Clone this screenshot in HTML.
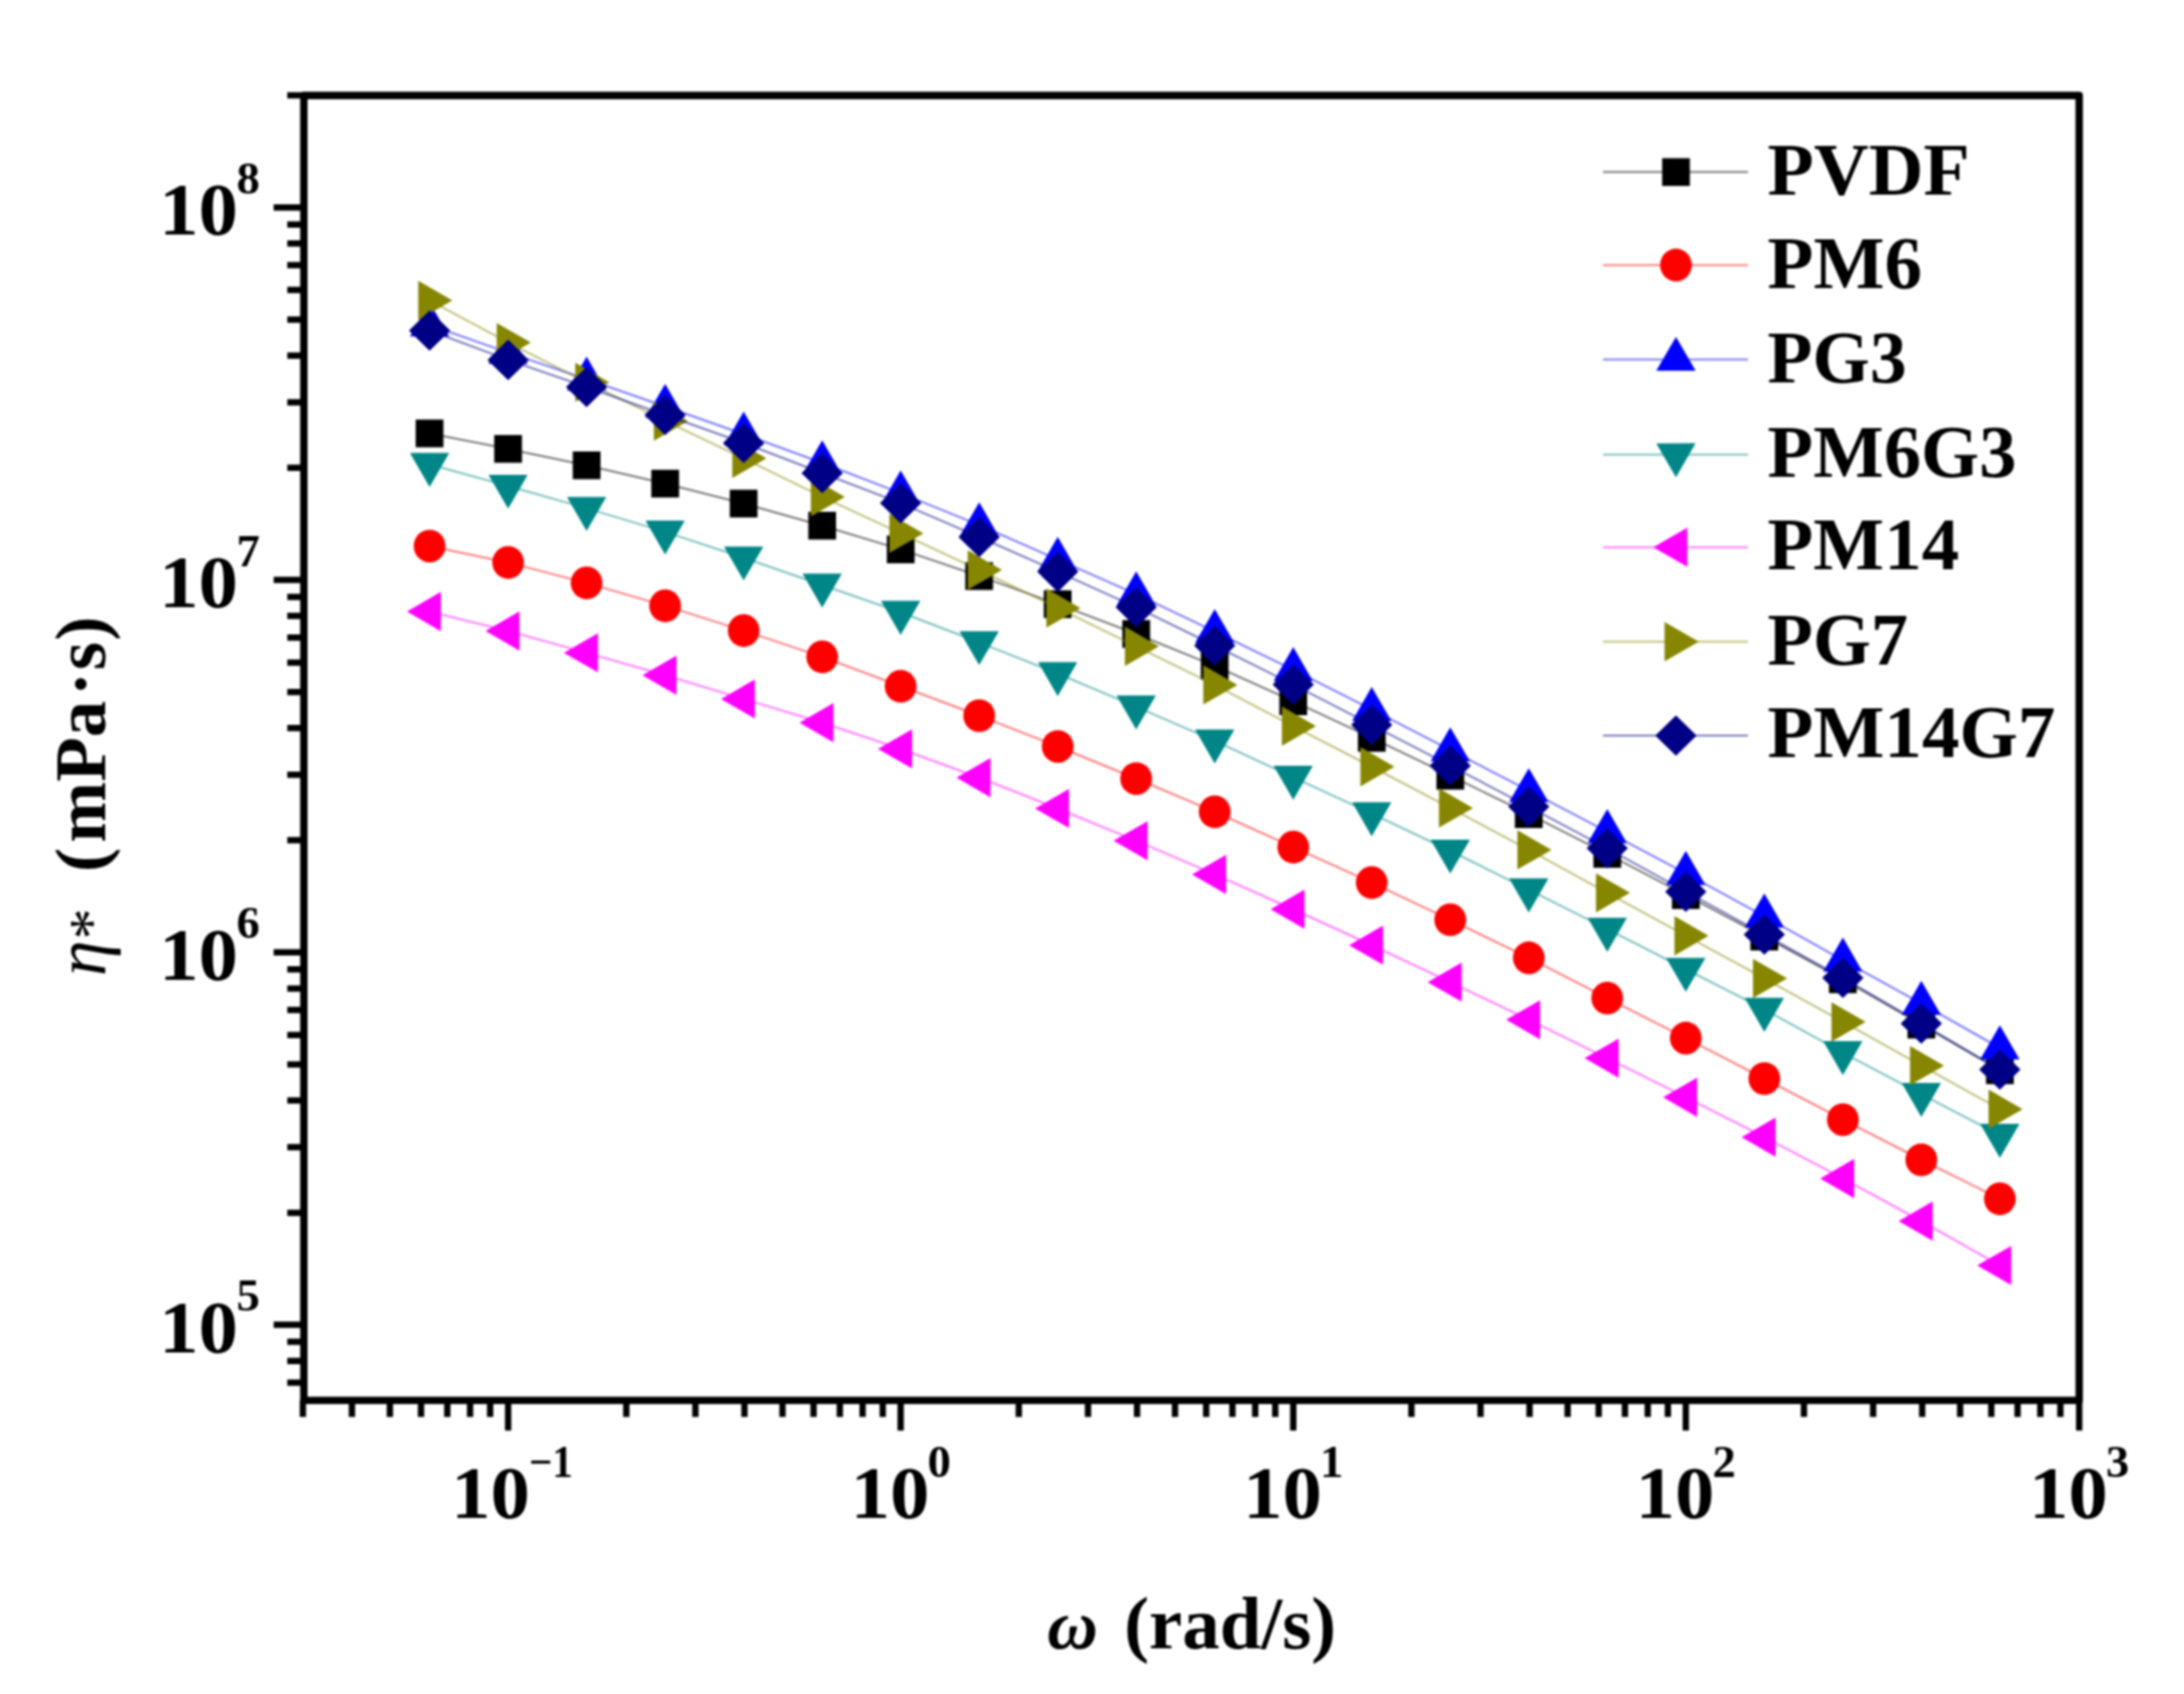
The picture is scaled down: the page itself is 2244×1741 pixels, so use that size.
<!DOCTYPE html>
<html lang="en"><head><meta charset="utf-8"><title>Complex viscosity vs angular frequency</title>
<style>html,body{margin:0;padding:0;background:#fff}svg{display:block;filter:blur(1px)}text{font-family:"Liberation Serif","DejaVu Serif",serif;fill:#000}.b{font-weight:bold}.i{font-style:italic}</style>
</head><body>
<svg width="2244" height="1741" viewBox="0 0 2244 1741">
<rect x="0" y="0" width="2244" height="1741" fill="#fff"/>
<g id="series">
<polyline points="441.4,445.4 522.1,461.4 602.7,478.3 683.4,497.0 764.1,517.5 844.8,540.2 925.4,564.6 1006.1,592.0 1086.8,620.9 1167.4,651.5 1248.1,684.3 1328.8,720.7 1409.4,758.3 1490.1,797.2 1570.8,836.7 1651.4,877.6 1732.1,919.9 1812.8,962.5 1893.5,1006.5 1974.1,1053.1 2054.8,1099.9" fill="none" stroke="#000000" stroke-width="2" stroke-opacity="0.52"/>
<g><rect x="427.1" y="431.2" width="28.5" height="28.5" fill="#000000"/><rect x="507.8" y="447.1" width="28.5" height="28.5" fill="#000000"/><rect x="588.5" y="464.0" width="28.5" height="28.5" fill="#000000"/><rect x="669.2" y="482.8" width="28.5" height="28.5" fill="#000000"/><rect x="749.8" y="503.3" width="28.5" height="28.5" fill="#000000"/><rect x="830.5" y="526.0" width="28.5" height="28.5" fill="#000000"/><rect x="911.2" y="550.4" width="28.5" height="28.5" fill="#000000"/><rect x="991.8" y="577.8" width="28.5" height="28.5" fill="#000000"/><rect x="1072.5" y="606.7" width="28.5" height="28.5" fill="#000000"/><rect x="1153.2" y="637.3" width="28.5" height="28.5" fill="#000000"/><rect x="1233.8" y="670.0" width="28.5" height="28.5" fill="#000000"/><rect x="1314.5" y="706.5" width="28.5" height="28.5" fill="#000000"/><rect x="1395.2" y="744.1" width="28.5" height="28.5" fill="#000000"/><rect x="1475.9" y="783.0" width="28.5" height="28.5" fill="#000000"/><rect x="1556.5" y="822.5" width="28.5" height="28.5" fill="#000000"/><rect x="1637.2" y="863.3" width="28.5" height="28.5" fill="#000000"/><rect x="1717.9" y="905.7" width="28.5" height="28.5" fill="#000000"/><rect x="1798.5" y="948.3" width="28.5" height="28.5" fill="#000000"/><rect x="1879.2" y="992.2" width="28.5" height="28.5" fill="#000000"/><rect x="1959.9" y="1038.8" width="28.5" height="28.5" fill="#000000"/><rect x="2040.6" y="1085.7" width="28.5" height="28.5" fill="#000000"/></g>
<polyline points="441.4,561.2 522.1,578.1 602.7,599.1 683.4,622.6 764.1,648.1 844.8,675.1 925.4,705.3 1006.1,735.5 1086.8,767.2 1167.4,800.2 1248.1,834.3 1328.8,870.6 1409.4,907.1 1490.1,945.3 1570.8,984.4 1651.4,1025.8 1732.1,1066.9 1812.8,1108.5 1893.5,1150.7 1974.1,1192.0 2054.8,1232.1" fill="none" stroke="#ff0000" stroke-width="2" stroke-opacity="0.52"/>
<g><ellipse cx="441.4" cy="561.2" rx="16.3" ry="16.8" fill="#ff0000"/><ellipse cx="522.1" cy="578.1" rx="16.3" ry="16.8" fill="#ff0000"/><ellipse cx="602.7" cy="599.1" rx="16.3" ry="16.8" fill="#ff0000"/><ellipse cx="683.4" cy="622.6" rx="16.3" ry="16.8" fill="#ff0000"/><ellipse cx="764.1" cy="648.1" rx="16.3" ry="16.8" fill="#ff0000"/><ellipse cx="844.8" cy="675.1" rx="16.3" ry="16.8" fill="#ff0000"/><ellipse cx="925.4" cy="705.3" rx="16.3" ry="16.8" fill="#ff0000"/><ellipse cx="1006.1" cy="735.5" rx="16.3" ry="16.8" fill="#ff0000"/><ellipse cx="1086.8" cy="767.2" rx="16.3" ry="16.8" fill="#ff0000"/><ellipse cx="1167.4" cy="800.2" rx="16.3" ry="16.8" fill="#ff0000"/><ellipse cx="1248.1" cy="834.3" rx="16.3" ry="16.8" fill="#ff0000"/><ellipse cx="1328.8" cy="870.6" rx="16.3" ry="16.8" fill="#ff0000"/><ellipse cx="1409.4" cy="907.1" rx="16.3" ry="16.8" fill="#ff0000"/><ellipse cx="1490.1" cy="945.3" rx="16.3" ry="16.8" fill="#ff0000"/><ellipse cx="1570.8" cy="984.4" rx="16.3" ry="16.8" fill="#ff0000"/><ellipse cx="1651.4" cy="1025.8" rx="16.3" ry="16.8" fill="#ff0000"/><ellipse cx="1732.1" cy="1066.9" rx="16.3" ry="16.8" fill="#ff0000"/><ellipse cx="1812.8" cy="1108.5" rx="16.3" ry="16.8" fill="#ff0000"/><ellipse cx="1893.5" cy="1150.7" rx="16.3" ry="16.8" fill="#ff0000"/><ellipse cx="1974.1" cy="1192.0" rx="16.3" ry="16.8" fill="#ff0000"/><ellipse cx="2054.8" cy="1232.1" rx="16.3" ry="16.8" fill="#ff0000"/></g>
<polyline points="441.4,334.0 522.1,362.4 602.7,389.7 683.4,417.8 764.1,446.2 844.8,475.8 925.4,506.9 1006.1,539.6 1086.8,575.1 1167.4,610.6 1248.1,649.2 1328.8,688.4 1409.4,729.2 1490.1,770.8 1570.8,812.7 1651.4,854.8 1732.1,897.7 1812.8,941.6 1893.5,986.9 1974.1,1031.4 2054.8,1077.1" fill="none" stroke="#0000ff" stroke-width="2" stroke-opacity="0.52"/>
<g><polygon points="441.4,310.7 461.6,345.7 421.2,345.7" fill="#0000ff"/><polygon points="522.1,339.1 542.2,374.1 501.9,374.1" fill="#0000ff"/><polygon points="602.7,366.4 622.9,401.4 582.6,401.4" fill="#0000ff"/><polygon points="683.4,394.5 703.6,429.4 663.2,429.4" fill="#0000ff"/><polygon points="764.1,422.9 784.3,457.9 743.9,457.9" fill="#0000ff"/><polygon points="844.8,452.5 864.9,487.4 824.6,487.4" fill="#0000ff"/><polygon points="925.4,483.6 945.6,518.6 905.2,518.6" fill="#0000ff"/><polygon points="1006.1,516.3 1026.3,551.3 985.9,551.3" fill="#0000ff"/><polygon points="1086.8,551.8 1106.9,586.7 1066.6,586.7" fill="#0000ff"/><polygon points="1167.4,587.3 1187.6,622.2 1147.3,622.2" fill="#0000ff"/><polygon points="1248.1,625.9 1268.3,660.8 1227.9,660.8" fill="#0000ff"/><polygon points="1328.8,665.1 1348.9,700.0 1308.6,700.0" fill="#0000ff"/><polygon points="1409.4,705.9 1429.6,740.9 1389.3,740.9" fill="#0000ff"/><polygon points="1490.1,747.5 1510.3,782.4 1469.9,782.4" fill="#0000ff"/><polygon points="1570.8,789.4 1591.0,824.3 1550.6,824.3" fill="#0000ff"/><polygon points="1651.4,831.5 1671.6,866.4 1631.3,866.4" fill="#0000ff"/><polygon points="1732.1,874.4 1752.3,909.4 1711.9,909.4" fill="#0000ff"/><polygon points="1812.8,918.3 1833.0,953.2 1792.6,953.2" fill="#0000ff"/><polygon points="1893.5,963.6 1913.6,998.5 1873.3,998.5" fill="#0000ff"/><polygon points="1974.1,1008.1 1994.3,1043.1 1954.0,1043.1" fill="#0000ff"/><polygon points="2054.8,1053.8 2075.0,1088.7 2034.6,1088.7" fill="#0000ff"/></g>
<polyline points="441.4,477.2 522.1,499.5 602.7,522.4 683.4,546.6 764.1,573.3 844.8,601.2 925.4,629.3 1006.1,660.3 1086.8,692.3 1167.4,726.4 1248.1,761.4 1328.8,798.8 1409.4,836.1 1490.1,874.5 1570.8,914.4 1651.4,954.9 1732.1,996.0 1812.8,1037.3 1893.5,1081.8 1974.1,1124.7 2054.8,1166.6" fill="none" stroke="#008686" stroke-width="2" stroke-opacity="0.52"/>
<g><polygon points="441.4,500.5 421.2,465.6 461.6,465.6" fill="#008686"/><polygon points="522.1,522.8 501.9,487.9 542.2,487.9" fill="#008686"/><polygon points="602.7,545.7 582.6,510.8 622.9,510.8" fill="#008686"/><polygon points="683.4,569.9 663.2,534.9 703.6,534.9" fill="#008686"/><polygon points="764.1,596.6 743.9,561.7 784.3,561.7" fill="#008686"/><polygon points="844.8,624.5 824.6,589.5 864.9,589.5" fill="#008686"/><polygon points="925.4,652.6 905.2,617.6 945.6,617.6" fill="#008686"/><polygon points="1006.1,683.6 985.9,648.7 1026.3,648.7" fill="#008686"/><polygon points="1086.8,715.6 1066.6,680.6 1106.9,680.6" fill="#008686"/><polygon points="1167.4,749.7 1147.3,714.8 1187.6,714.8" fill="#008686"/><polygon points="1248.1,784.7 1227.9,749.8 1268.3,749.8" fill="#008686"/><polygon points="1328.8,822.1 1308.6,787.1 1348.9,787.1" fill="#008686"/><polygon points="1409.4,859.4 1389.3,824.4 1429.6,824.4" fill="#008686"/><polygon points="1490.1,897.8 1469.9,862.9 1510.3,862.9" fill="#008686"/><polygon points="1570.8,937.7 1550.6,902.8 1591.0,902.8" fill="#008686"/><polygon points="1651.4,978.2 1631.3,943.3 1671.6,943.3" fill="#008686"/><polygon points="1732.1,1019.3 1711.9,984.4 1752.3,984.4" fill="#008686"/><polygon points="1812.8,1060.6 1792.6,1025.6 1833.0,1025.6" fill="#008686"/><polygon points="1893.5,1105.1 1873.3,1070.1 1913.6,1070.1" fill="#008686"/><polygon points="1974.1,1148.0 1954.0,1113.0 1994.3,1113.0" fill="#008686"/><polygon points="2054.8,1189.9 2034.6,1154.9 2075.0,1154.9" fill="#008686"/></g>
<polyline points="441.4,628.5 522.1,648.5 602.7,670.9 683.4,694.0 764.1,718.4 844.8,742.7 925.4,769.7 1006.1,799.2 1086.8,831.0 1167.4,864.1 1248.1,898.7 1328.8,934.5 1409.4,971.5 1490.1,1009.4 1570.8,1048.1 1651.4,1087.6 1732.1,1127.7 1812.8,1168.7 1893.5,1211.2 1974.1,1255.0 2054.8,1300.6" fill="none" stroke="#ff00ff" stroke-width="2" stroke-opacity="0.52"/>
<g><polygon points="418.1,628.5 453.0,608.3 453.0,648.7" fill="#ff00ff"/><polygon points="498.8,648.5 533.7,628.3 533.7,668.7" fill="#ff00ff"/><polygon points="579.4,670.9 614.4,650.7 614.4,691.1" fill="#ff00ff"/><polygon points="660.1,694.0 695.1,673.8 695.1,714.2" fill="#ff00ff"/><polygon points="740.8,718.4 775.7,698.2 775.7,738.6" fill="#ff00ff"/><polygon points="821.5,742.7 856.4,722.5 856.4,762.9" fill="#ff00ff"/><polygon points="902.1,769.7 937.1,749.5 937.1,789.8" fill="#ff00ff"/><polygon points="982.8,799.2 1017.7,779.0 1017.7,819.4" fill="#ff00ff"/><polygon points="1063.5,831.0 1098.4,810.8 1098.4,851.1" fill="#ff00ff"/><polygon points="1144.1,864.1 1179.1,843.9 1179.1,884.3" fill="#ff00ff"/><polygon points="1224.8,898.7 1259.8,878.5 1259.8,918.9" fill="#ff00ff"/><polygon points="1305.5,934.5 1340.4,914.3 1340.4,954.7" fill="#ff00ff"/><polygon points="1386.1,971.5 1421.1,951.3 1421.1,991.6" fill="#ff00ff"/><polygon points="1466.8,1009.4 1501.8,989.3 1501.8,1029.6" fill="#ff00ff"/><polygon points="1547.5,1048.1 1582.4,1028.0 1582.4,1068.3" fill="#ff00ff"/><polygon points="1628.1,1087.6 1663.1,1067.4 1663.1,1107.7" fill="#ff00ff"/><polygon points="1708.8,1127.7 1743.8,1107.5 1743.8,1147.9" fill="#ff00ff"/><polygon points="1789.5,1168.7 1824.4,1148.5 1824.4,1188.9" fill="#ff00ff"/><polygon points="1870.2,1211.2 1905.1,1191.1 1905.1,1231.4" fill="#ff00ff"/><polygon points="1950.8,1255.0 1985.8,1234.8 1985.8,1275.2" fill="#ff00ff"/><polygon points="2031.5,1300.6 2066.5,1280.4 2066.5,1320.8" fill="#ff00ff"/></g>
<polyline points="441.4,308.8 522.1,352.1 602.7,392.9 683.4,432.7 764.1,471.1 844.8,510.7 925.4,548.2 1006.1,585.8 1086.8,624.9 1167.4,664.3 1248.1,703.9 1328.8,746.3 1409.4,788.0 1490.1,830.4 1570.8,873.4 1651.4,917.6 1732.1,961.7 1812.8,1005.5 1893.5,1050.2 1974.1,1095.2 2054.8,1139.9" fill="none" stroke="#868600" stroke-width="2" stroke-opacity="0.52"/>
<g><polygon points="464.7,308.8 429.8,329.0 429.7,288.6" fill="#868600"/><polygon points="545.4,352.1 510.4,372.2 510.4,331.9" fill="#868600"/><polygon points="626.0,392.9 591.1,413.1 591.1,372.8" fill="#868600"/><polygon points="706.7,432.7 671.8,452.9 671.8,412.6" fill="#868600"/><polygon points="787.4,471.1 752.4,491.3 752.4,450.9" fill="#868600"/><polygon points="868.0,510.7 833.1,530.8 833.1,490.5" fill="#868600"/><polygon points="948.7,548.2 913.8,568.3 913.8,528.0" fill="#868600"/><polygon points="1029.4,585.8 994.4,606.0 994.4,565.6" fill="#868600"/><polygon points="1110.1,624.9 1075.1,645.1 1075.1,604.7" fill="#868600"/><polygon points="1190.7,664.3 1155.8,684.4 1155.8,644.1" fill="#868600"/><polygon points="1271.4,703.9 1236.4,724.1 1236.4,683.7" fill="#868600"/><polygon points="1352.1,746.3 1317.1,766.5 1317.1,726.1" fill="#868600"/><polygon points="1432.7,788.0 1397.8,808.2 1397.8,767.8" fill="#868600"/><polygon points="1513.4,830.4 1478.5,850.6 1478.5,810.2" fill="#868600"/><polygon points="1594.1,873.4 1559.1,893.6 1559.1,853.2" fill="#868600"/><polygon points="1674.7,917.6 1639.8,937.8 1639.8,897.5" fill="#868600"/><polygon points="1755.4,961.7 1720.5,981.9 1720.5,941.5" fill="#868600"/><polygon points="1836.1,1005.5 1801.1,1025.7 1801.1,985.4" fill="#868600"/><polygon points="1916.8,1050.2 1881.8,1070.4 1881.8,1030.1" fill="#868600"/><polygon points="1997.4,1095.2 1962.5,1115.3 1962.5,1075.0" fill="#868600"/><polygon points="2078.1,1139.9 2043.2,1160.1 2043.2,1119.7" fill="#868600"/></g>
<polyline points="441.4,339.7 522.1,369.9 602.7,397.7 683.4,426.5 764.1,455.2 844.8,486.3 925.4,517.1 1006.1,551.9 1086.8,587.6 1167.4,624.1 1248.1,663.5 1328.8,703.6 1409.4,745.1 1490.1,786.9 1570.8,829.1 1651.4,871.8 1732.1,916.4 1812.8,960.5 1893.5,1005.0 1974.1,1051.9 2054.8,1099.3" fill="none" stroke="#000086" stroke-width="2" stroke-opacity="0.52"/>
<g><polygon points="441.4,318.9 462.6,339.7 441.4,360.5 420.2,339.7" fill="#000086"/><polygon points="522.1,349.1 543.3,369.9 522.1,390.7 500.9,369.9" fill="#000086"/><polygon points="602.7,376.9 623.9,397.7 602.7,418.5 581.5,397.7" fill="#000086"/><polygon points="683.4,405.7 704.6,426.5 683.4,447.3 662.2,426.5" fill="#000086"/><polygon points="764.1,434.4 785.3,455.2 764.1,476.0 742.9,455.2" fill="#000086"/><polygon points="844.8,465.5 866.0,486.3 844.8,507.1 823.5,486.3" fill="#000086"/><polygon points="925.4,496.3 946.6,517.1 925.4,537.9 904.2,517.1" fill="#000086"/><polygon points="1006.1,531.1 1027.3,551.9 1006.1,572.7 984.9,551.9" fill="#000086"/><polygon points="1086.8,566.8 1108.0,587.6 1086.8,608.4 1065.6,587.6" fill="#000086"/><polygon points="1167.4,603.3 1188.6,624.1 1167.4,644.9 1146.2,624.1" fill="#000086"/><polygon points="1248.1,642.7 1269.3,663.5 1248.1,684.3 1226.9,663.5" fill="#000086"/><polygon points="1328.8,682.8 1350.0,703.6 1328.8,724.4 1307.6,703.6" fill="#000086"/><polygon points="1409.4,724.3 1430.6,745.1 1409.4,765.9 1388.2,745.1" fill="#000086"/><polygon points="1490.1,766.1 1511.3,786.9 1490.1,807.7 1468.9,786.9" fill="#000086"/><polygon points="1570.8,808.3 1592.0,829.1 1570.8,849.9 1549.6,829.1" fill="#000086"/><polygon points="1651.4,851.0 1672.6,871.8 1651.4,892.6 1630.2,871.8" fill="#000086"/><polygon points="1732.1,895.6 1753.3,916.4 1732.1,937.2 1710.9,916.4" fill="#000086"/><polygon points="1812.8,939.7 1834.0,960.5 1812.8,981.3 1791.6,960.5" fill="#000086"/><polygon points="1893.5,984.2 1914.7,1005.0 1893.5,1025.8 1872.3,1005.0" fill="#000086"/><polygon points="1974.1,1031.1 1995.3,1051.9 1974.1,1072.7 1952.9,1051.9" fill="#000086"/><polygon points="2054.8,1078.5 2076.0,1099.3 2054.8,1120.1 2033.6,1099.3" fill="#000086"/></g>
</g>
<g stroke="#000" fill="none" stroke-linecap="butt">
<rect x="312.2" y="98.1" width="1824.1" height="1341.2" stroke-width="7.6" stroke-linejoin="round"/>
<path d="M312.2,1420.9h-17M312.2,1398.7h-17M312.2,1379.1h-17M312.2,1361.6h-31M312.2,1246.4h-17M312.2,1179.0h-17M312.2,1131.1h-17M312.2,1094.0h-17M312.2,1063.7h-17M312.2,1038.1h-17M312.2,1015.9h-17M312.2,996.3h-17M312.2,978.8h-31M312.2,863.6h-17M312.2,796.2h-17M312.2,748.3h-17M312.2,711.2h-17M312.2,680.9h-17M312.2,655.3h-17M312.2,633.1h-17M312.2,613.5h-17M312.2,596.0h-31M312.2,480.8h-17M312.2,413.4h-17M312.2,365.5h-17M312.2,328.4h-17M312.2,298.1h-17M312.2,272.5h-17M312.2,250.3h-17M312.2,230.7h-17M312.2,213.2h-31M312.2,98.0h-17M311.2,1439.3v17M361.6,1439.3v17M400.6,1439.3v17M432.6,1439.3v17M459.6,1439.3v17M483.0,1439.3v17M503.6,1439.3v17M522.1,1439.3v31M643.5,1439.3v17M714.5,1439.3v17M764.9,1439.3v17M804.0,1439.3v17M835.9,1439.3v17M862.9,1439.3v17M886.3,1439.3v17M907.0,1439.3v17M925.4,1439.3v31M1046.8,1439.3v17M1117.9,1439.3v17M1168.3,1439.3v17M1207.3,1439.3v17M1239.3,1439.3v17M1266.3,1439.3v17M1289.7,1439.3v17M1310.3,1439.3v17M1328.8,1439.3v31M1450.2,1439.3v17M1521.2,1439.3v17M1571.6,1439.3v17M1610.7,1439.3v17M1642.6,1439.3v17M1669.6,1439.3v17M1693.0,1439.3v17M1713.7,1439.3v17M1732.1,1439.3v31M1853.5,1439.3v17M1924.6,1439.3v17M1975.0,1439.3v17M2014.0,1439.3v17M2046.0,1439.3v17M2073.0,1439.3v17M2096.4,1439.3v17M2117.0,1439.3v17M2136.3,1439.3v31" stroke-width="6.5"/>
</g>
<g class="b">
<text x="163.5" y="1389.6" font-size="76" textLength="81" lengthAdjust="spacingAndGlyphs">10</text>
<text x="243" y="1347.1" font-size="46" textLength="24" lengthAdjust="spacingAndGlyphs">5</text>
<text x="163.5" y="1006.8" font-size="76" textLength="81" lengthAdjust="spacingAndGlyphs">10</text>
<text x="243" y="964.3" font-size="46" textLength="24" lengthAdjust="spacingAndGlyphs">6</text>
<text x="163.5" y="624.0" font-size="76" textLength="81" lengthAdjust="spacingAndGlyphs">10</text>
<text x="243" y="581.5" font-size="46" textLength="24" lengthAdjust="spacingAndGlyphs">7</text>
<text x="163.5" y="241.2" font-size="76" textLength="81" lengthAdjust="spacingAndGlyphs">10</text>
<text x="243" y="198.7" font-size="46" textLength="24" lengthAdjust="spacingAndGlyphs">8</text>
<text x="463.6" y="1559.5" font-size="76" textLength="81" lengthAdjust="spacingAndGlyphs">10</text>
<text x="543.6" y="1517.5" font-size="46" textLength="45" lengthAdjust="spacingAndGlyphs">−1</text>
<text x="873.9" y="1559.5" font-size="76" textLength="81" lengthAdjust="spacingAndGlyphs">10</text>
<text x="952.9" y="1517.5" font-size="46" textLength="24" lengthAdjust="spacingAndGlyphs">0</text>
<text x="1277.3" y="1559.5" font-size="76" textLength="81" lengthAdjust="spacingAndGlyphs">10</text>
<text x="1356.3" y="1517.5" font-size="46" textLength="24" lengthAdjust="spacingAndGlyphs">1</text>
<text x="1680.6" y="1559.5" font-size="76" textLength="81" lengthAdjust="spacingAndGlyphs">10</text>
<text x="1759.6" y="1517.5" font-size="46" textLength="24" lengthAdjust="spacingAndGlyphs">2</text>
<text x="2084.8" y="1559.5" font-size="76" textLength="81" lengthAdjust="spacingAndGlyphs">10</text>
<text x="2163.8" y="1517.5" font-size="46" textLength="24" lengthAdjust="spacingAndGlyphs">3</text>
</g>
<g transform="translate(108.3,0) rotate(-90)" text-anchor="middle" font-size="75">
<text class="i" x="-985" y="0" font-size="74">η</text>
<text x="-949.4" y="7" font-size="64">*</text>
<text class="b" x="-883.8" y="0">(</text>
<text class="b" x="-793.2" y="0">mPa</text>
<text class="b" x="-703.1" y="0">·</text>
<text class="b" x="-674.2" y="0">s</text>
<text class="b" x="-646.1" y="0">)</text>
</g>
<text x="1076" y="1694" font-size="72" class="b i">ω</text>
<text x="1155" y="1694" font-size="76" class="b" textLength="218" lengthAdjust="spacingAndGlyphs">(rad/s)</text>
<g id="legend">
<line x1="1647" y1="176.8" x2="1796" y2="176.8" stroke="#000000" stroke-width="2" stroke-opacity="0.5"/>
<rect x="1707.8" y="162.6" width="28.5" height="28.5" fill="#000000"/>
<text class="b" x="1816" y="199.8" font-size="76" textLength="208" lengthAdjust="spacingAndGlyphs">PVDF</text>
<line x1="1647" y1="272.4" x2="1796" y2="272.4" stroke="#ff0000" stroke-width="2" stroke-opacity="0.5"/>
<ellipse cx="1722.0" cy="272.4" rx="16.3" ry="16.8" fill="#ff0000"/>
<text class="b" x="1816" y="296.2" font-size="76" textLength="159" lengthAdjust="spacingAndGlyphs">PM6</text>
<line x1="1647" y1="369.5" x2="1796" y2="369.5" stroke="#0000ff" stroke-width="2" stroke-opacity="0.5"/>
<polygon points="1722.0,346.2 1742.2,381.1 1701.8,381.1" fill="#0000ff"/>
<text class="b" x="1816" y="392.6" font-size="76" textLength="143" lengthAdjust="spacingAndGlyphs">PG3</text>
<line x1="1647" y1="467.3" x2="1796" y2="467.3" stroke="#008686" stroke-width="2" stroke-opacity="0.5"/>
<polygon points="1722.0,490.6 1701.8,455.7 1742.2,455.6" fill="#008686"/>
<text class="b" x="1816" y="490.2" font-size="76" textLength="256" lengthAdjust="spacingAndGlyphs">PM6G3</text>
<line x1="1647" y1="562.4" x2="1796" y2="562.4" stroke="#ff00ff" stroke-width="2" stroke-opacity="0.5"/>
<polygon points="1698.7,562.4 1733.7,542.2 1733.7,582.6" fill="#ff00ff"/>
<text class="b" x="1816" y="585" font-size="76" textLength="197" lengthAdjust="spacingAndGlyphs">PM14</text>
<line x1="1647" y1="659.5" x2="1796" y2="659.5" stroke="#868600" stroke-width="2" stroke-opacity="0.5"/>
<polygon points="1745.3,659.5 1710.3,679.7 1710.3,639.3" fill="#868600"/>
<text class="b" x="1816" y="683.3" font-size="76" textLength="144.5" lengthAdjust="spacingAndGlyphs">PG7</text>
<line x1="1647" y1="756" x2="1796" y2="756" stroke="#000086" stroke-width="2" stroke-opacity="0.5"/>
<polygon points="1722.0,735.2 1743.2,756.0 1722.0,776.8 1700.8,756.0" fill="#000086"/>
<text class="b" x="1816" y="778" font-size="76" textLength="296" lengthAdjust="spacingAndGlyphs">PM14G7</text>
</g>
</svg></body></html>
